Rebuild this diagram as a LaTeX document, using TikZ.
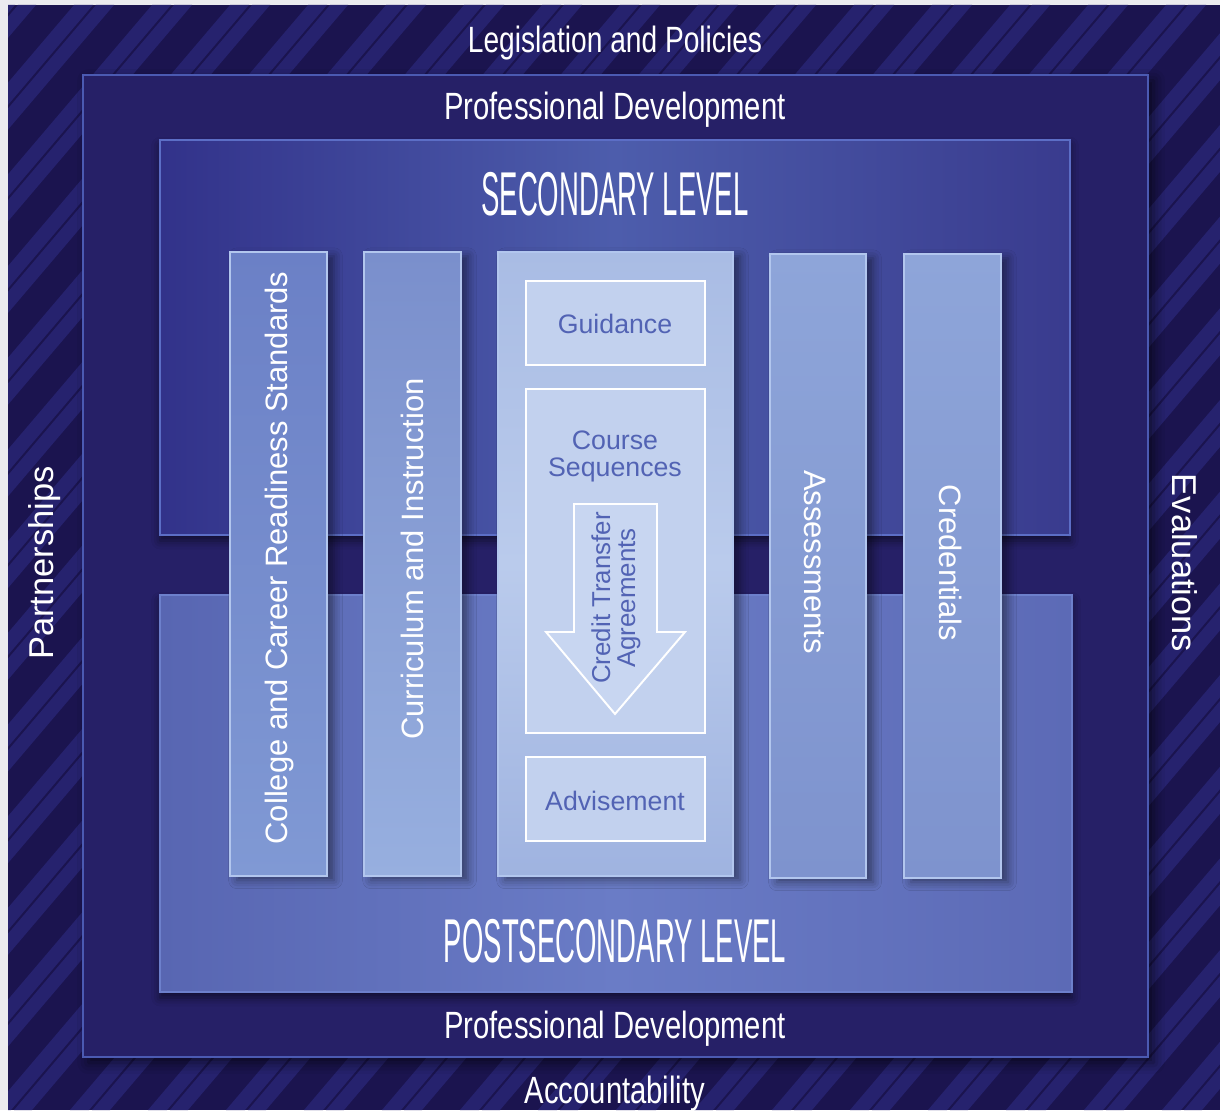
\documentclass[tikz,border=0pt]{standalone}
\usepackage{fontspec}
\setmainfont{Liberation Sans}
\newfontfamily\condA[FakeStretch=0.77]{Liberation Sans}
\newfontfamily\condB[FakeStretch=0.445]{Liberation Sans}
\usetikzlibrary{fit,shadows.blur}
\definecolor{bgmargin}{HTML}{EBEBEF}
\definecolor{navy}{HTML}{1B144F}
\definecolor{stripe}{HTML}{26226E}
\definecolor{midfill}{HTML}{262067}
\definecolor{midborder}{HTML}{4B5AB2}
\definecolor{secL}{HTML}{32328A}
\definecolor{secM}{HTML}{4D5DAC}
\definecolor{secR}{HTML}{393B8E}
\definecolor{postL}{HTML}{5866B2}
\definecolor{postM}{HTML}{6A7CC6}
\definecolor{postR}{HTML}{5C6AB6}
\definecolor{secborder}{HTML}{5C6EC6}
\definecolor{postborder}{HTML}{6D80CC}
\definecolor{colborder}{HTML}{B2C6EE}
\definecolor{innerfill}{HTML}{C2D1EE}
\definecolor{arrowfill}{HTML}{C8D6F1}
\definecolor{bluetext}{HTML}{5263B4}
\definecolor{cAtop}{HTML}{6B80C6}
\definecolor{cAbot}{HTML}{8099D4}
\definecolor{cBtop}{HTML}{7A8FCC}
\definecolor{cBbot}{HTML}{97AFDF}
\definecolor{cCtop}{HTML}{A9BCE4}
\definecolor{cCbot}{HTML}{9FB3E0}
\definecolor{cCmid}{HTML}{BACBEC}
\definecolor{cDtop}{HTML}{8EA5D9}
\definecolor{cDbot}{HTML}{7E93CE}
\begin{document}
\begin{tikzpicture}[x=0.025cm,y=-0.025cm,
  box/.style={inner sep=0pt, outer sep=0pt},
  lvlbox/.style={box, line width=1.4pt,
    blur shadow={shadow xshift=0pt, shadow yshift=-4pt, shadow blur radius=6pt, shadow opacity=55}},
  colbox/.style={box, draw=colborder, line width=1.4pt,
    blur shadow={shadow xshift=5pt, shadow yshift=-3pt, shadow blur radius=6pt, shadow opacity=45}},
  innerbox/.style={box, draw=white, line width=1.4pt, fill=innerfill},
  lbl/.style={text=white, inner sep=0pt, font=\fontsize{27}{30}\selectfont\condA},
  title/.style={text=white, inner sep=0pt, font=\fontsize{44}{48}\selectfont\condB},
  side/.style={text=white, inner sep=0pt, font=\fontsize{24.5}{28}\selectfont},
  coltext/.style={text=white, inner sep=0pt, font=\fontsize{22}{26}\selectfont},
  ctext/.style={text=bluetext, inner sep=0pt, font=\fontsize{19}{18.5}\selectfont, align=center}
]
\useasboundingbox (0,0) rectangle (1220,1110);
\fill[bgmargin] (0,0) rectangle (1220,1110);

% outer band with stripes
\node[box, fit={(8,5)(1220,1110)}, fill=navy] (outer) {};
\begin{scope}
  \clip (8,5) rectangle (1220,1110);
  \foreach \o in {-1100,-1022,...,1300} {
    \fill[stripe] (\o,1110) -- ++(19,0) -- ++(940,-1105) -- ++(-19,0) -- cycle;
    \fill[stripe] (\o+22,1110) -- ++(18,0) -- ++(940,-1105) -- ++(-18,0) -- cycle;
  }
\end{scope}

% professional development frame
\node[box, fit={(83,75)(1148,1057)}, fill=midfill, draw=midborder, line width=2pt,
  blur shadow={shadow xshift=4pt, shadow yshift=-4pt, shadow blur radius=8pt, shadow opacity=60}] (pd) {};

% level boxes
\node[lvlbox, fit={(160,140)(1070,535)}, left color=secL, right color=secR, middle color=secM, draw=secborder] (secbox) {};
\node[lvlbox, fit={(160,595)(1072,992)}, left color=postL, right color=postR, middle color=postM, draw=postborder] (postbox) {};

% columns
\node[colbox, fit={(230,252)(327,876)}, top color=cAtop, bottom color=cAbot] (c1) {};
\node[colbox, fit={(364,252)(461,876)}, top color=cBtop, bottom color=cBbot] (c2) {};
\node[colbox, fit={(498,252)(733,876)}, top color=cCtop, bottom color=cCbot, middle color=cCmid] (c3) {};
\node[colbox, fit={(770,254)(866,878)}, top color=cDtop, bottom color=cDbot] (c4) {};
\node[colbox, fit={(904,254)(1001,878)}, top color=cDtop, bottom color=cDbot] (c5) {};

% inner boxes of centre column
\node[innerbox, fit={(526,281)(705,365)}] (guid) {};
\node[innerbox, fit={(526,389)(705,733)}] (course) {};
\node[innerbox, fit={(526,757)(705,841)}] (advis) {};

% credit transfer arrow
\draw[white, line width=1.4pt, fill=arrowfill, line join=miter]
  (574,504) -- (657,504) -- (657,632) -- (685,632) -- (615,714) -- (546,632) -- (574,632) -- cycle;

% texts
\node[lbl, anchor=base, font=\fontsize{26}{30}\selectfont\condA] (legis) at (615,53) {Legislation and Policies};
\node[lbl, anchor=base] (pdtop) at (615,120) {Professional Development};
\node[lbl, anchor=base] (pdbot) at (615,1038) {Professional Development};
\node[lbl, anchor=base] (acct) at (615,1103) {Accountability};
\node[title, anchor=base] (sectitle) at (615,215) {SECONDARY LEVEL};
\node[title, anchor=base] (posttitle) at (615,962) {POSTSECONDARY LEVEL};
\node[side, rotate=90] (part) at (45,563) {Partnerships};
\node[side, rotate=-90] (evalu) at (1185,563) {Evaluations};

\node[coltext, rotate=90] (t1) at (279,558) {College and Career Readiness Standards};
\node[coltext, rotate=90] (t2) at (412,559) {Curriculum and Instruction};
\node[coltext, rotate=-90] (t4) at (815,562) {Assessments};
\node[coltext, rotate=-90] (t5) at (951,563) {Credentials};

\node[ctext, anchor=base] (tguid) at (615,333) {Guidance};
\node[ctext, anchor=base] (tcourse) at (615,476) {Course\\Sequences};
\node[ctext, anchor=base] (tadvis) at (615,810) {Advisement};
\node[ctext, rotate=90, font=\fontsize{18.4}{17.8}\selectfont] (tcredit) at (616,598) {Credit Transfer\\Agreements};
\end{tikzpicture}
\end{document}
